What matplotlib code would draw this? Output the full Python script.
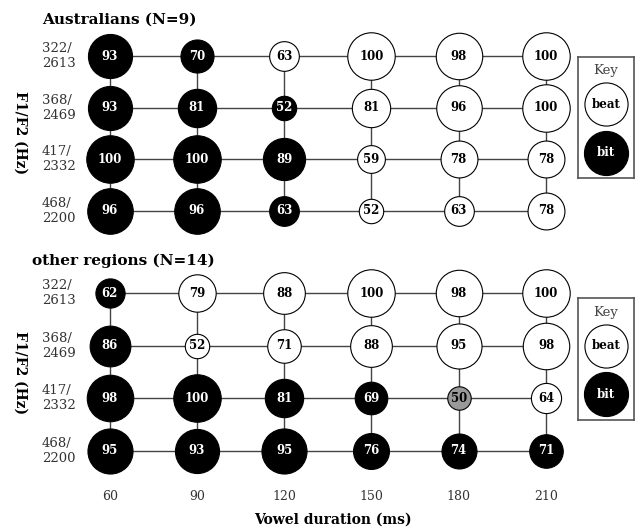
import matplotlib.pyplot as plt
from matplotlib.transforms import blended_transform_factory

# data
durations = [60, 90, 120, 150, 180, 210]
formants = ["322/\n2613", "368/\n2469", "417/\n2332", "468/\n2200"]

# percent of listeners choosing the majority answer, rows = formant steps (top to bottom)
aus_pct = [[93, 70, 63, 100, 98, 100],
           [93, 81, 52, 81, 96, 100],
           [100, 100, 89, 59, 78, 78],
           [96, 96, 63, 52, 63, 78]]
aus_major = [["bit", "bit", "beat", "beat", "beat", "beat"],
             ["bit", "bit", "bit", "beat", "beat", "beat"],
             ["bit", "bit", "bit", "beat", "beat", "beat"],
             ["bit", "bit", "bit", "beat", "beat", "beat"]]

oth_pct = [[62, 79, 88, 100, 98, 100],
           [86, 52, 71, 88, 95, 98],
           [98, 100, 81, 69, 50, 64],
           [95, 93, 95, 76, 74, 71]]
oth_major = [["bit", "beat", "beat", "beat", "beat", "beat"],
             ["bit", "beat", "beat", "beat", "beat", "beat"],
             ["bit", "bit", "bit", "bit", "tie", "beat"],
             ["bit", "bit", "bit", "bit", "bit", "bit"]]

panel_titles = ["Australians (N=9)", "other regions (N=14)"]

W, H = 638, 531
fig = plt.figure(figsize=(W / 100, H / 100), dpi=100)
FONT = "DejaVu Serif"
fill = {"bit": "black", "beat": "white", "tie": "#999999"}
txtcol = {"bit": "white", "beat": "black", "tie": "black"}


def px_axes(l, t, r, b):
    return fig.add_axes([l / W, 1 - b / H, (r - l) / W, (b - t) / H])


def size(v):
    # marker diameter grows with the percentage
    return (0.3456 * v - 0.4) ** 2


def draw_panel(top, bottom, pct, major):
    ax = px_axes(69, top, 578, bottom)
    ax.set_xlim(46, 221)
    ax.set_ylim(3.5, -0.5)
    ax.axis("off")
    for i in range(len(formants)):
        ax.plot(durations, [i] * len(durations), color="#444444", lw=1.0, zorder=1)
    for x in durations:
        ax.plot([x] * len(formants), range(len(formants)), color="#444444", lw=1.0, zorder=1)
    for i in range(len(formants)):
        for j, x in enumerate(durations):
            m = major[i][j]
            ax.scatter(x, i, s=size(pct[i][j]), color=fill[m], edgecolor="black",
                       linewidth=0.8, zorder=2, clip_on=False)
            ax.text(x, i, str(pct[i][j]), ha="center", va="center", fontsize=8.5,
                    fontweight="bold", color=txtcol[m], family=FONT, zorder=3)
    tr = blended_transform_factory(fig.transFigure, ax.transData)
    for i, lab in enumerate(formants):
        ax.text(42 / W, i, lab, transform=tr, ha="left", va="center", fontsize=9.5,
                color="#333333", family=FONT, linespacing=1.2)
    return ax


def draw_key(top, bottom):
    k = px_axes(578, top, 634, bottom)
    k.set_xlim(0, 1)
    k.set_ylim(0, 1)
    k.set_xticks([])
    k.set_yticks([])
    for sp in k.spines.values():
        sp.set_color("#555555")
        sp.set_linewidth(1.2)
    k.text(0.5, 0.885, "Key", ha="center", va="center", fontsize=9.5,
           color="#444444", family=FONT)
    k.scatter(0.5, 0.61, s=size(91), color="white", edgecolor="black", linewidth=0.8, clip_on=False)
    k.text(0.5, 0.61, "beat", ha="center", va="center", fontsize=8.5,
           fontweight="bold", family=FONT)
    k.scatter(0.5, 0.21, s=size(93), color="black", edgecolor="black", linewidth=0.8, clip_on=False)
    k.text(0.5, 0.21, "bit", ha="center", va="center", fontsize=8.5,
           fontweight="bold", color="white", family=FONT)


ax1 = draw_panel(30.2, 236.8, aus_pct, aus_major)
ax2 = draw_panel(266.7, 477.3, oth_pct, oth_major)
draw_key(57, 178)
draw_key(298, 420)

fig.text(42 / W, 1 - 20 / H, panel_titles[0], ha="left", va="center", fontsize=11,
         fontweight="bold", family=FONT)
fig.text(32 / W, 1 - 261 / H, panel_titles[1], ha="left", va="center", fontsize=11,
         fontweight="bold", family=FONT)
for yc in (133, 373):
    fig.text(20 / W, 1 - yc / H, "F1/F2 (Hz)", ha="center", va="center", rotation=270,
             fontsize=10, fontweight="bold", family=FONT)

trx = blended_transform_factory(ax2.transData, fig.transFigure)
for x in durations:
    ax2.text(x, 1 - 497 / H, str(x), transform=trx, ha="center", va="center",
             fontsize=9, color="#333333", family=FONT)
fig.text(333 / W, 1 - 520 / H, "Vowel duration (ms)", ha="center", va="center",
         fontsize=10, fontweight="bold", family=FONT)

fig.savefig("out.png", dpi=100)
